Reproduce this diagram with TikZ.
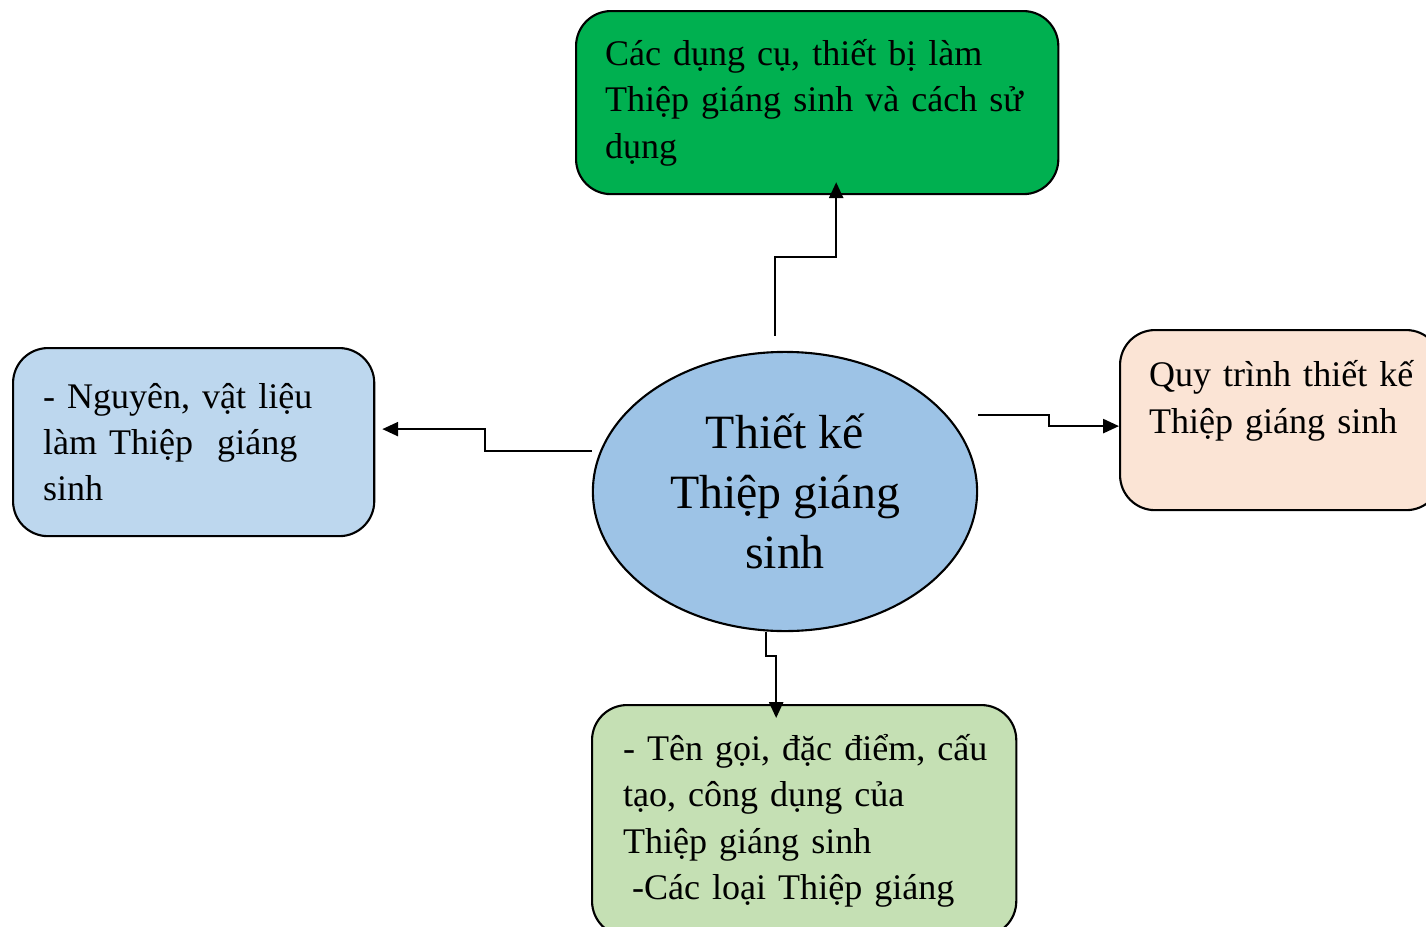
\documentclass[tikz,border=0pt]{standalone}
\usepackage{fontspec}
\setmainfont{Liberation Serif}
\usetikzlibrary{arrows.meta,shapes.geometric,positioning}
\definecolor{toolgreen}{HTML}{00B050}
\definecolor{hubblue}{HTML}{9DC3E6}
\definecolor{matblue}{HTML}{BDD7EE}
\definecolor{procpeach}{HTML}{FBE4D5}
\definecolor{itemgreen}{HTML}{C5E0B4}

\begin{document}
\begin{tikzpicture}[x=0.01cm,y=-0.01cm,>={Triangle[width=4pt,length=4.5pt]},line width=0.6pt]
  \tikzstyle{box}=[draw=black,rounded corners=0.35cm,anchor=north west,align=left,inner ysep=0pt,font=\fontsize{10.25}{13.2}\selectfont]
  \tikzstyle{link}=[->,draw=black,rounded corners=0pt]

  \clip (0,0) rectangle (1426,927);

  \node[ellipse,draw=black,fill=hubblue,minimum width=3.84cm,minimum height=2.79cm,inner sep=0pt,align=center,font=\fontsize{13.6}{17}\selectfont] (hub) at (785,491.5) {Thiết kế\\Thiệp giáng\\sinh};

  \node[box,fill=toolgreen,minimum width=4.82cm,minimum height=1.83cm,text width=4.24cm,inner xsep=0.29cm] (tools) at (575,10)
    {\mbox{Các dụng cụ, thiết bị làm}\\\mbox{Thiệp giáng sinh và cách sử}\\dụng};
  \node[box,fill=matblue,minimum width=3.61cm,minimum height=1.88cm,text width=3.01cm,inner xsep=0.3cm] (material) at (12,347)
    {\mbox{- Nguyên, vật liệu}\\\mbox{làm Thiệp\ \ giáng}\\sinh};
  \node[box,fill=procpeach,minimum width=3.21cm,minimum height=1.8cm,text width=2.63cm,inner xsep=0.29cm] (process) at (1119,329)
    {\mbox{Quy trình thiết kế}\\\mbox{Thiệp giáng sinh}\\~};
  \node[box,fill=itemgreen,minimum width=4.24cm,minimum height=2.31cm,text width=3.62cm,inner xsep=0.31cm] (items) at (591,704)
    {\mbox{- Tên gọi, đặc điểm, cấu}\\\mbox{tạo, công dụng của}\\\mbox{Thiệp giáng sinh}\\\mbox{\hspace{0.25em}-Các loại Thiệp giáng}};

  % connectors
  \draw[link] ([shift={(-10,-15)}]hub.north) -- ++(0,-79) -| ([shift={(19,-13)}]tools.south);
  \draw[link] ([shift={(0,-40.5)}]hub.west) -- ++(-107,0) |- ([shift={(7,-13)}]material.east);
  \draw[link] ([shift={(0,-76.5)}]hub.east) -- ++(71,0) |- ([shift={(0,6)}]process.west);
  \draw[link] ([shift={(-19,0)}]hub.south) -- ++(0,24) -| ([shift={(-28,14)}]items.north);
\end{tikzpicture}
\end{document}
